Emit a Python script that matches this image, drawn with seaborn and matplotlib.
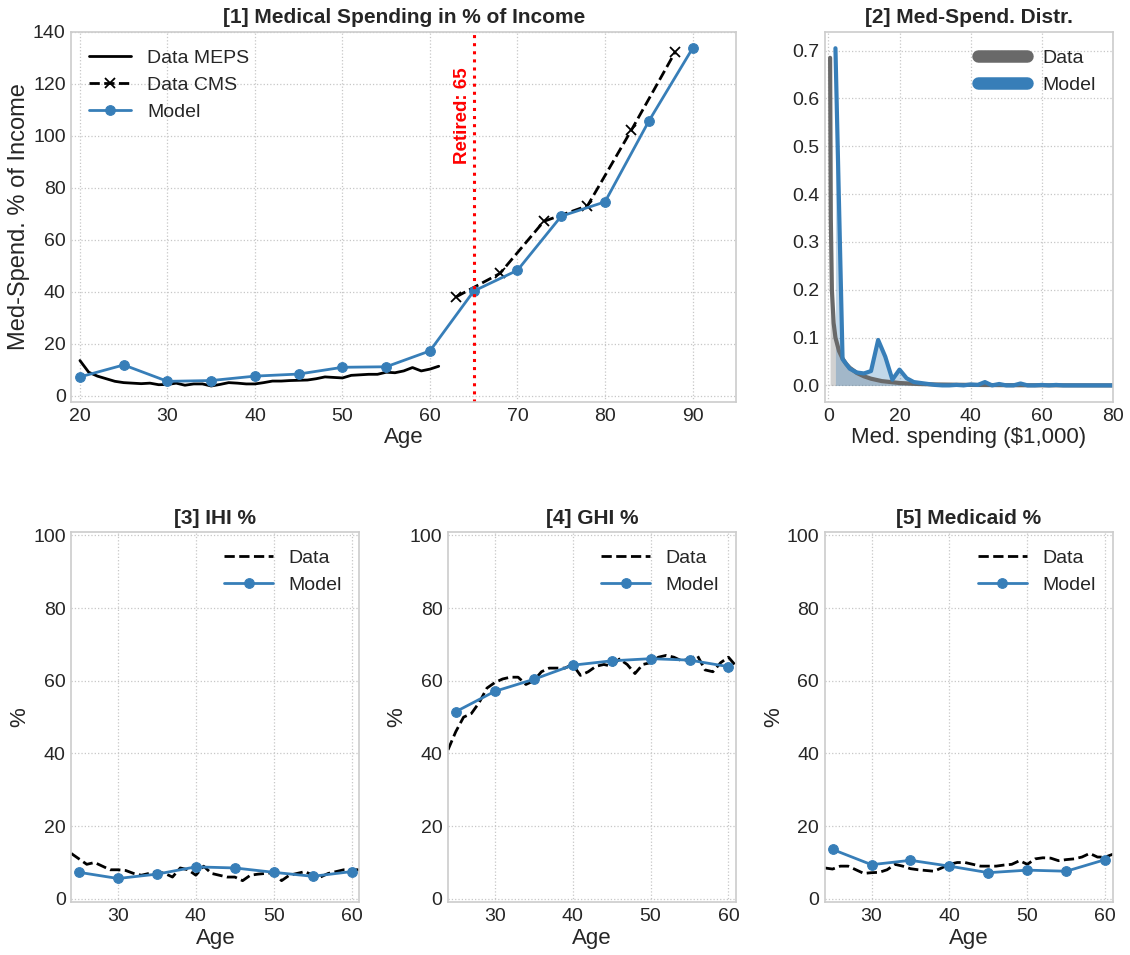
import numpy as np
import matplotlib
matplotlib.use("Agg")
import matplotlib.pyplot as plt
from matplotlib.lines import Line2D
import seaborn as sns
import pandas as pd

# [1] medical spending in % of income
meps_age = list(range(20, 62))
meps_val = [13.5, 9.0, 7.5, 6.5, 5.5, 5.0, 4.8, 4.6, 4.8, 4.2, 4.3, 4.8, 4.0, 4.5, 4.5, 3.7,
            4.3, 5.0, 4.8, 4.5, 4.5, 5.0, 5.6, 5.6, 5.8, 5.9, 6.0, 6.5, 7.2, 7.0, 6.8, 7.8,
            8.0, 8.2, 8.2, 9.0, 8.8, 9.5, 10.8, 9.5, 10.2, 11.3]
cms_age = [63, 68, 73, 78, 83, 88]
cms_val = [38, 47, 67, 73, 102, 132]
model_age = [20, 25, 30, 35, 40, 45, 50, 55, 60, 65, 70, 75, 80, 85, 90]
model_val = [7.2, 11.8, 5.5, 5.8, 7.5, 8.3, 10.9, 11.1, 17.2, 40.2, 48.2, 69.0, 74.5, 105.5, 133.5]

# [2] med-spending distribution
dist_data_x = [0.5, 0.7, 1.0, 1.5, 2, 3, 4, 5, 6, 8, 10, 12, 15, 20, 25, 30, 40, 50, 60, 70, 80]
dist_data_y = [0.685, 0.35, 0.2, 0.13, 0.1, 0.072, 0.056, 0.045, 0.037, 0.026, 0.019, 0.014,
               0.009, 0.005, 0.003, 0.002, 0.001, 0.0005, 0.0002, 0.0001, 0.0]
dist_model_x = list(range(2, 82, 2))
dist_model_y = [0.705, 0.055, 0.035, 0.027, 0.025, 0.03, 0.095, 0.06, 0.012, 0.033,
                0.015, 0.007, 0.005, 0.003, 0.001, 0.0, 0.0, 0.001, 0.0, 0.002,
                0.001, 0.007, 0.0, 0.003, 0.0, 0.0, 0.004, 0.0, 0.0, 0.001,
                0.0, 0.001, 0.0, 0.0, 0.0, 0.0, 0.0, 0.0, 0.0, 0.0]

# [3]-[5] insurance shares, ages 24-61 (data) and 25-60 (model)
ins_age = list(range(24, 62))
ihi_data = [12.5, 11, 9.5, 10, 9, 8, 8, 7.8, 7, 6.5, 7, 7.5, 7, 6, 8.5, 8, 6.5, 9, 7, 6.5,
            6, 6, 5, 6.5, 6.8, 7, 7.2, 5, 6.5, 7, 7.5, 6.5, 6, 7, 7.5, 8, 8, 8]
ghi_data = [41, 46, 50, 51, 54, 58, 59.5, 60.5, 61, 61, 59, 60, 62.5, 63.5, 63.5, 63.5, 64.5,
            61.5, 62.5, 64, 64.5, 64, 66, 64.5, 62, 64.5, 65, 66.5, 67, 66.5, 65.5, 66, 67,
            63, 62.5, 65, 66.5, 64]
mcd_data = [8.5, 8.2, 9, 9, 8, 7, 7.2, 7.3, 8, 9.5, 9, 8.3, 8, 7.8, 7.6, 8.5, 9.5, 10, 10,
            9.5, 9, 9, 9, 9.3, 9.5, 10.5, 9.5, 11, 11.3, 11.2, 10.5, 10.8, 11, 11.5, 12.5,
            11.5, 11.5, 12.3]
ins_model_age = [25, 30, 35, 40, 45, 50, 55, 60]
ihi_model = [7.3, 5.6, 6.8, 8.8, 8.5, 7.3, 6.2, 7.5]
ghi_model = [51.5, 57.1, 60.4, 64.3, 65.5, 66.1, 65.7, 63.9]
mcd_model = [13.6, 9.4, 10.6, 9.0, 7.2, 7.9, 7.6, 10.8]

BLUE = "#377eb8"

sns.set_theme(style="whitegrid")
plt.rcParams.update({
    "font.family": ["Liberation Sans", "DejaVu Sans"],
    "axes.edgecolor": ".8",
    "axes.linewidth": 1.2,
    "grid.linestyle": ":",
    "grid.color": ".78",
    "grid.linewidth": 0.9,
    "xtick.labelsize": 14,
    "ytick.labelsize": 14,
    "xtick.major.size": 0,
    "ytick.major.size": 0,
    "xtick.major.pad": 4,
    "ytick.major.pad": 4,
    "axes.labelsize": 16,
    "axes.labelpad": 2,
    "axes.titlesize": 15,
    "axes.titleweight": "bold",
    "legend.fontsize": 14,
    "text.color": ".15",
    "axes.labelcolor": ".15",
})

fig = plt.figure(figsize=(11.3, 9.55), dpi=100)
gs = fig.add_gridspec(2, 3, left=0.063, right=0.985, top=0.967, bottom=0.055,
                      wspace=0.307, hspace=0.35)
ax1 = fig.add_subplot(gs[0, :2])
ax2 = fig.add_subplot(gs[0, 2])
ax3 = fig.add_subplot(gs[1, 0])
ax4 = fig.add_subplot(gs[1, 1])
ax5 = fig.add_subplot(gs[1, 2])

# panel 1
sns.lineplot(x=meps_age, y=meps_val, ax=ax1, color="black", lw=2, label="Data MEPS")
sns.lineplot(x=cms_age, y=cms_val, ax=ax1, color="black", lw=2, linestyle="--",
             marker="x", markersize=7, markeredgecolor="black", markeredgewidth=1.3,
             label="Data CMS")
sns.lineplot(x=model_age, y=model_val, ax=ax1, color=BLUE, lw=2, marker="o",
             markersize=7, markeredgecolor=BLUE, label="Model")
ax1.axvline(65, color="red", linestyle=":", lw=2.2)
ax1.text(64.7, 89, "Retired: 65", rotation=90, color="red", fontsize=13.5,
         fontweight="bold", ha="right", va="bottom")
ax1.set_xlim(19, 95)
ax1.set_ylim(-2.5, 140)
ax1.set_xticks(range(20, 100, 10))
ax1.set_yticks(range(0, 141, 20))
ax1.set_xlabel("Age")
ax1.set_ylabel("Med-Spend. % of Income", fontsize=17)
ax1.set_title("[1] Medical Spending in % of Income")
ax1.legend(loc="upper left", frameon=False, handlelength=2.2)

# panel 2
ax2.fill_between(dist_data_x, dist_data_y, color="0.55", alpha=0.4, lw=0)
ax2.fill_between(dist_model_x, dist_model_y, color=BLUE, alpha=0.3, lw=0)
sns.lineplot(x=dist_data_x, y=dist_data_y, ax=ax2, color="dimgray", lw=3)
sns.lineplot(x=dist_model_x, y=dist_model_y, ax=ax2, color=BLUE, lw=3)
ax2.set_xlim(-1, 80)
ax2.set_ylim(-0.035, 0.74)
ax2.set_xticks(range(0, 81, 20))
ax2.set_yticks(np.arange(0, 0.71, 0.1))
ax2.set_xlabel("Med. spending ($1,000)")
ax2.set_title("[2] Med-Spend. Distr.")
handles = [Line2D([0], [0], color="dimgray", lw=9, solid_capstyle="round"),
           Line2D([0], [0], color=BLUE, lw=9, solid_capstyle="round")]
ax2.legend(handles, ["Data", "Model"], loc="upper right", frameon=False, handlelength=2.5)

# panels 3-5
for ax, dat, mod, title in [(ax3, ihi_data, ihi_model, "[3] IHI %"),
                            (ax4, ghi_data, ghi_model, "[4] GHI %"),
                            (ax5, mcd_data, mcd_model, "[5] Medicaid %")]:
    sns.lineplot(x=ins_age, y=dat, ax=ax, color="black", lw=2, linestyle="--", label="Data")
    sns.lineplot(x=ins_model_age, y=mod, ax=ax, color=BLUE, lw=2, marker="o",
                 markersize=7, markeredgecolor=BLUE, label="Model")
    ax.set_xlim(24, 61)
    ax.set_ylim(-1, 101)
    ax.set_xticks([30, 40, 50, 60])
    ax.set_yticks(range(0, 101, 20))
    ax.set_xlabel("Age")
    ax.set_ylabel("%")
    ax.set_title(title)
    ax.legend(loc="upper right", frameon=False, handlelength=2.5)

fig.savefig("out.png", dpi=100)
